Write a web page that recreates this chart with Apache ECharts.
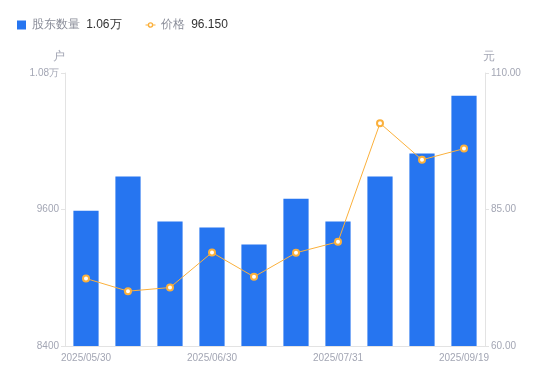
<!DOCTYPE html>
<html>
<head>
<meta charset="utf-8">
<script src="https://cdn.jsdelivr.net/npm/echarts@6/dist/echarts.min.js"></script>
<style>html,body{margin:0;padding:0;background:#fff}#c{width:550px;height:381px}</style>
</head>
<body>
<div id="c"></div>
<script>
var categories = ['2025/05/30','2025/06/10','2025/06/20','2025/06/30','2025/07/10','2025/07/20','2025/07/31','2025/08/20','2025/08/31','2025/09/19'];
var holders = [9590, 9890, 9495, 9442, 9292, 9694, 9495, 9890, 10092, 10600];
var prices = [72.36, 70.04, 70.71, 77.12, 72.67, 77.07, 79.08, 100.8, 94.1, 96.15];
var leftTicks = [8400, 9600, 10800];
var rightTicks = [60, 85, 110];

var chart = echarts.init(document.getElementById('c'));
var labelColor = '#a3a6b4';
var lineColor = '#fbb03b';
function fmtHolder(v){ return v >= 10000 ? (v/10000).toFixed(2) + '万' : String(v); }
chart.setOption({
  animation: false,
  textStyle: { fontFamily: 'sans-serif' },
  legend: {
    left: 12, top: 14,
    itemWidth: 10, itemHeight: 9, itemGap: 24,
    data: [
      {name: '股东数量', icon: 'path://M0,0 H10 V10 H0 Z', itemStyle: { color: '#2675f0' }},
      {name: '价格', icon: 'path://M0,2.6 H2.2 V3.4 H0 Z M7.8,2.6 H10 V3.4 H7.8 Z M5,0.2 A2.8,2.8 0 1 1 4.99,0.2 Z M5,1.6 A1.4,1.4 0 1 0 5.01,1.6 Z',
       itemStyle: { color: lineColor, borderWidth: 0 }}
    ],
    formatter: function(name){
      if (name === '股东数量') return '{n|' + name + '}  {v|' + fmtHolder(holders[holders.length-1]) + '}';
      return '{n|' + name + '}  {v|' + prices[prices.length-1].toFixed(3) + '}';
    },
    textStyle: {
      rich: {
        n: { color: '#8a8d99', fontSize: 12 },
        v: { color: '#333', fontSize: 12 }
      }
    }
  },
  grid: { left: 65, right: 65, top: 73, bottom: 35 },
  xAxis: {
    type: 'category', data: categories,
    axisLine: { lineStyle: { color: '#e3e3e3' } },
    axisTick: { show: false },
    axisLabel: { color: labelColor, fontSize: 10, interval: 2, margin: 7 }
  },
  yAxis: [{
    type: 'value', name: '户', min: leftTicks[0], max: leftTicks[2], interval: leftTicks[1]-leftTicks[0],
    nameTextStyle: { color: labelColor, fontSize: 12, padding: [0, 12, 0, 0] }, nameGap: 10,
    axisLine: { show: true, lineStyle: { color: '#e3e3e3' } },
    axisTick: { show: true, length: 4, lineStyle: { color: '#e3e3e3' } },
    splitLine: { show: false },
    axisLabel: { color: labelColor, fontSize: 10, margin: 6, formatter: fmtHolder }
  }, {
    type: 'value', name: '元', min: rightTicks[0], max: rightTicks[2], interval: rightTicks[1]-rightTicks[0],
    nameTextStyle: { color: labelColor, fontSize: 12, padding: [0, 0, 0, 8] }, nameGap: 10,
    axisLine: { show: true, lineStyle: { color: '#e3e3e3' } },
    axisTick: { show: true, length: 4, lineStyle: { color: '#e3e3e3' } },
    splitLine: { show: false },
    axisLabel: { color: labelColor, fontSize: 10, margin: 6, formatter: function(v){ return v.toFixed(2); } }
  }],
  series: [{
    name: '股东数量', type: 'bar', data: holders, barWidth: '60%',
    itemStyle: { color: '#2675f0' }
  }, {
    name: '价格', type: 'line', yAxisIndex: 1, data: prices,
    symbol: 'circle', symbolSize: 6, showAllSymbol: true,
    lineStyle: { color: lineColor, width: 1 },
    itemStyle: { color: '#fff', borderColor: lineColor, borderWidth: 2 }
  }]
});
</script>
</body>
</html>
